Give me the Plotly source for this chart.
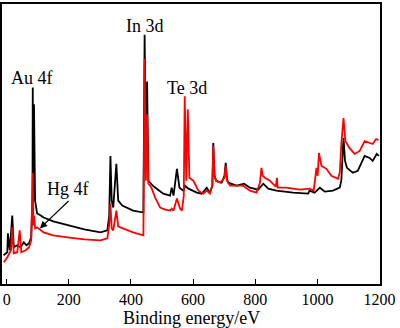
import plotly.graph_objects as go

# Binding energy (eV) and intensity (a.u.)
black_eV = [-10, 2, 4, 10, 18, 23, 34, 45, 55, 64, 72, 79, 83, 84, 86, 88, 91.5, 98, 110, 119, 150, 196, 250, 302, 324, 330, 334, 338, 343, 353, 359, 372, 407, 440, 444, 448, 452, 456, 462, 470, 483, 504, 526, 531, 537, 548, 556, 569, 574, 585, 612, 628, 644, 654, 662, 665, 669, 674, 692, 701, 705, 709, 713, 740, 764, 783, 809, 826, 842, 868, 922, 970, 975, 991, 1008, 1024, 1050, 1072, 1077, 1084, 1089, 1095, 1114, 1130, 1152, 1168, 1178, 1191, 1198]
black_I = [30, 33, 52, 35, 70, 38, 40, 38, 43, 40, 42, 48, 85, 199, 85, 182, 85, 72, 70, 68, 64, 60, 56, 53, 55, 70, 130, 85, 78, 122, 85, 80, 75, 73, 252, 135, 205, 105, 103, 100, 97, 92, 90, 98, 90, 117, 98, 95, 100, 97, 93, 92, 98, 93, 100, 143, 110, 105, 103, 110, 123, 107, 103, 100, 102, 98, 96, 102, 97, 95, 93, 92, 95, 93, 98, 94, 95, 98, 105, 148, 125, 118, 113, 115, 130, 128, 125, 132, 130]

red_eV = [-9, 2, 14, 18, 23, 34, 42, 47, 61, 72, 79, 84, 86, 88, 91.5, 98, 119, 150, 196, 250, 302, 324, 330, 334, 338, 343, 353, 359, 366, 407, 440, 444, 448, 452, 456, 462, 467, 478, 494, 510, 526, 531, 537, 548, 558, 564, 570, 573, 578, 583, 588, 601, 617, 633, 644, 654, 662, 665, 669, 674, 687, 701, 705, 709, 719, 761, 783, 804, 815, 820, 824, 831, 847, 866, 870, 872, 900, 943, 975, 988, 997, 1001, 1005, 1013, 1029, 1045, 1066, 1072, 1077, 1084, 1090, 1103, 1120, 1136, 1152, 1168, 1178, 1189, 1197]
red_I = [23, 28, 35, 58, 32, 33, 55, 33, 35, 38, 45, 113, 60, 70, 57, 58, 53, 50, 48, 46, 45, 47, 60, 82, 57, 55, 75, 59, 58, 53, 50, 228, 105, 172, 102, 100, 97, 88, 78, 76, 75, 77, 75, 87, 77, 75, 90, 190, 105, 177, 108, 105, 95, 92, 95, 92, 100, 140, 110, 105, 103, 108, 120, 105, 100, 100, 95, 93, 103, 118, 110, 108, 105, 99, 108, 98, 98, 96, 97, 95, 118, 110, 133, 120, 117, 110, 107, 113, 142, 168, 145, 138, 132, 135, 145, 143, 142, 147, 146]

x_ticks = [0, 200, 400, 600, 800, 1000, 1200]
peak_labels = ["Au 4f", "In 3d", "Te 3d", "Hg 4f"]
label_eV = [80, 445, 580, 197]
label_I = [208, 261, 198, 97]
x_title = "Binding energy/eV"

serif = "Liberation Serif, Times New Roman, serif"

fig = go.Figure()
fig.add_trace(go.Scatter(x=black_eV, y=black_I, mode="lines",
                         line=dict(color="#000000", width=1.8), showlegend=False))
fig.add_trace(go.Scatter(x=red_eV, y=red_I, mode="lines",
                         line=dict(color="#ff0000", width=1.8), showlegend=False))

for t, xv, yv in zip(peak_labels, label_eV, label_I):
    fig.add_annotation(x=xv, y=yv, text=t, showarrow=False,
                       font=dict(family=serif, size=18, color="black"),
                       xanchor="center", yanchor="middle")

# arrow for Hg 4f
fig.add_annotation(x=107, y=57, ax=204, ay=86, xref="x", yref="y", axref="x", ayref="y",
                   text="", showarrow=True, arrowhead=2, arrowsize=1.2, arrowwidth=1.2,
                   arrowcolor="black")

# axis title
fig.add_annotation(x=0.5, y=-0.121, xref="paper", yref="paper", text=x_title,
                   showarrow=False, xanchor="center", yanchor="middle",
                   font=dict(family=serif, size=18, color="black"))

fig.update_layout(
    width=400, height=328,
    margin=dict(l=2, r=20, t=2, b=44),
    paper_bgcolor="white", plot_bgcolor="white",
    font=dict(family=serif, color="black"),
)
fig.update_xaxes(range=[-15, 1201.5], tickvals=x_ticks, ticktext=[str(v) for v in x_ticks],
                 ticks="inside", ticklen=5, tickwidth=1.2, tickcolor="black",
                 showline=True, linecolor="black", linewidth=1.5, mirror=True,
                 showgrid=False, zeroline=False,
                 tickfont=dict(family=serif, size=16, color="black"))
fig.update_yaxes(range=[1, 283], showticklabels=False, ticks="",
                 showline=True, linecolor="black", linewidth=1.5, mirror=True,
                 showgrid=False, zeroline=False)

fig.write_html("out.html")
